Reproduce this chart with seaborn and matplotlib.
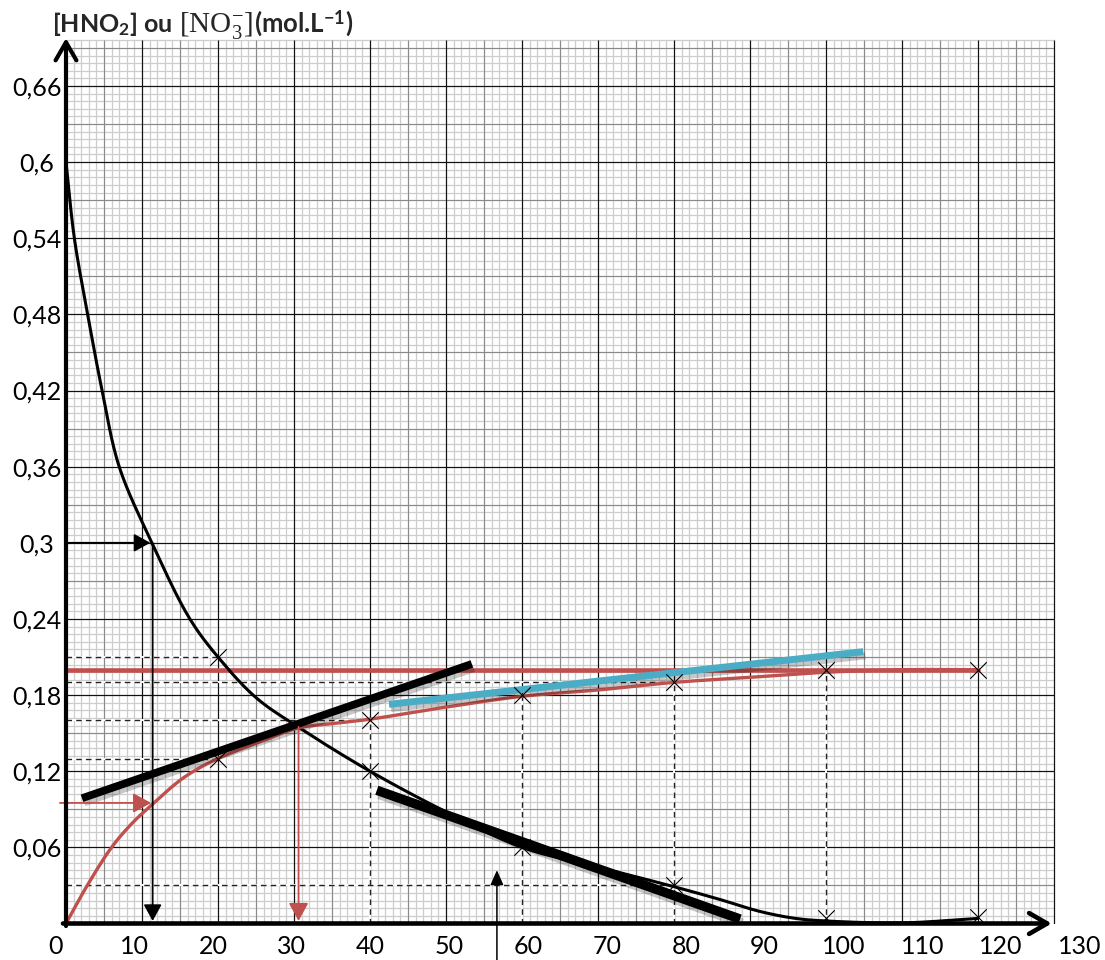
import numpy as np
import pandas as pd
import matplotlib
matplotlib.use("Agg")
import matplotlib.pyplot as plt
import matplotlib.patheffects as pe
import seaborn as sns

# ---------------- data ----------------
# measured points (crosses)
t_hno2_pts = [20, 40, 60, 80, 100, 120]
c_hno2_pts = [0.21, 0.12, 0.06, 0.03, 0.004, 0.005]
t_no3_pts = [20, 40, 60, 80, 100, 120]
c_no3_pts = [0.13, 0.16, 0.18, 0.19, 0.20, 0.20]

# traced curves
t_hno2_curve = [0, 1.1, 2.85, 4.75, 7.0, 11.3, 16.3, 20, 25, 30.5, 40, 50, 60, 70, 80, 86, 91.3, 96, 100, 110, 120]
c_hno2_curve = [0.60, 0.54, 0.48, 0.42, 0.36, 0.30, 0.24, 0.21, 0.178, 0.155, 0.12, 0.088, 0.06, 0.0445, 0.029, 0.019, 0.0095, 0.004, 0.002, 0.0005, 0.004]
t_no3_curve = [0, 2.8, 6.0, 8.7, 11.3, 15.5, 20, 25.5, 30.5, 35, 40, 50, 60, 70, 80, 90, 100, 110, 120]
c_no3_curve = [0, 0.03, 0.06, 0.079, 0.0935, 0.115, 0.13, 0.143, 0.154, 0.1575, 0.161, 0.1705, 0.179, 0.184, 0.190, 0.194, 0.198, 0.200, 0.200]

# tangent segments
tan_no3_t = [2.1, 53.4]
tan_no3_c = [0.0987, 0.2045]
tan_hno2_t = [40.9, 88.7]
tan_hno2_c = [0.105, 0.0035]
tan_cyan_t = [42.5, 104.9]
tan_cyan_c = [0.1727, 0.2142]

# final concentration line
c_final = 0.20
t_final = [0, 120]

# reading guides (dashed)
guide_h_c = [0.21, 0.19, 0.16, 0.13, 0.03]
guide_h_t = [20, 80, 40, 20, 80]
guide_v_t = [40, 60, 80, 100]
guide_v_c = [0.16, 0.18, 0.19, 0.20]

# arrows
half_t, half_c = 11.4, 0.30
inter_t, inter_c = 30.6, 0.155
red_arrow_t, red_arrow_c = 11.2, 0.095
up_arrow_t, up_arrow_c0, up_arrow_c1 = 56.7, -0.03, 0.042

x_tick_values = list(range(0, 131, 10))
y_tick_values = [0.06, 0.12, 0.18, 0.24, 0.30, 0.36, 0.42, 0.48, 0.54, 0.60, 0.66]
y_tick_labels = ["0,06", "0,12", "0,18", "0,24", "0,3", "0,36", "0,42", "0,48", "0,54", "0,6", "0,66"]

RED = "#C0504D"
CYAN = "#4BACC6"

# ---------------- style ----------------
sns.set_theme(style="white")
plt.rcParams["font.family"] = ["Lato", "DejaVu Sans"]
plt.rcParams["mathtext.fontset"] = "custom"
plt.rcParams["mathtext.rm"] = "Liberation Serif"
plt.rcParams["mathtext.it"] = "Liberation Serif:italic"
plt.rcParams["mathtext.bf"] = "Lato:bold"

W, H = 1105, 960
fig = plt.figure(figsize=(W / 100, H / 100), dpi=100)
XMIN, XMAX, YMIN, YMAX = -2, 134, 0, 0.70
PX_X, PX_Y = 7.6, 1269.0
left_px = 66 - (0 - XMIN) * PX_X
bottom_px = 36.5
ax = fig.add_axes([left_px / W, bottom_px / H, (XMAX - XMIN) * PX_X / W, (YMAX - YMIN) * PX_Y / H])
ax.set_xlim(XMIN, XMAX)
ax.set_ylim(YMIN, YMAX)
for s in ax.spines.values():
    s.set_visible(False)

# ---------------- millimetre paper grid ----------------
GX1, GY1 = 130, 0.696
xs_minor = np.arange(0, GX1 + 0.01, 1)
ys_minor = np.arange(0, GY1 + 1e-6, 0.006)
ax.vlines(xs_minor, 0, GY1, colors="#cdcdcd", lw=0.9, zorder=0.3)
ax.hlines(ys_minor, 0, GX1, colors="#cdcdcd", lw=0.9, zorder=0.3)
ax.vlines(np.arange(5, GX1, 10), 0, GY1, colors="#8a8a8a", lw=0.8, zorder=0.4)
ax.hlines(np.arange(0.03, GY1, 0.06), 0, GX1, colors="#8a8a8a", lw=0.8, zorder=0.4)
ax.vlines(np.arange(10, GX1 + 0.01, 10), 0, GY1, colors="#111111", lw=0.85, zorder=0.5)
ax.hlines(np.arange(0.06, GY1, 0.06), 0, GX1, colors="#111111", lw=0.85, zorder=0.5)


# ---------------- smooth rendering of traced curves ----------------
def smooth(xs, ys, n=25):
    P = np.column_stack([np.asarray(xs, float) * PX_X, np.asarray(ys, float) * PX_Y])
    P = np.vstack([2 * P[0] - P[1], P, 2 * P[-1] - P[-2]])
    out = [P[1]]
    for i in range(1, len(P) - 2):
        p0, p1, p2, p3 = P[i - 1], P[i], P[i + 1], P[i + 2]

        def tj(ti, a, b):
            return ti + max(np.linalg.norm(b - a), 1e-6) ** 0.5
        t0 = 0.0
        t1 = tj(t0, p0, p1)
        t2 = tj(t1, p1, p2)
        t3 = tj(t2, p2, p3)
        tt = np.linspace(t1, t2, n)[1:][:, None]
        A1 = (t1 - tt) / (t1 - t0) * p0 + (tt - t0) / (t1 - t0) * p1
        A2 = (t2 - tt) / (t2 - t1) * p1 + (tt - t1) / (t2 - t1) * p2
        A3 = (t3 - tt) / (t3 - t2) * p2 + (tt - t2) / (t3 - t2) * p3
        B1 = (t2 - tt) / (t2 - t0) * A1 + (tt - t0) / (t2 - t0) * A2
        B2 = (t3 - tt) / (t3 - t1) * A2 + (tt - t1) / (t3 - t1) * A3
        C = (t2 - tt) / (t2 - t1) * B1 + (tt - t1) / (t2 - t1) * B2
        out.extend(C)
    out = np.array(out)
    return out[:, 0] / PX_X, out[:, 1] / PX_Y


# dashed reading guides
for c, t in zip(guide_h_c, guide_h_t):
    ax.plot([0, t], [c, c], color="white", lw=1.4, zorder=1.0)
    ax.plot([0, t], [c, c], color="#222222", lw=1.0, ls=(0, (4, 3)), zorder=1.1)
for t, c in zip(guide_v_t, guide_v_c):
    ax.plot([t, t], [0, c], color="white", lw=1.4, zorder=1.0)
    ax.plot([t, t], [0, c], color="#222222", lw=1.0, ls=(0, (4, 3)), zorder=1.1)

# final concentration horizontal line
sns.lineplot(x=t_final, y=[c_final, c_final], color=RED, lw=3.3, ax=ax, zorder=2)

# curves
sx, sy = smooth(t_hno2_curve, c_hno2_curve)
sns.lineplot(x=sx, y=sy, sort=False, estimator=None, color="black", lw=2.2, ax=ax, zorder=2.5)
sx, sy = smooth(t_no3_curve, c_no3_curve)
sns.lineplot(x=sx, y=sy, sort=False, estimator=None, color=RED, lw=2.4, ax=ax, zorder=2.5)

# tangents with shadow
shadow = [pe.SimpleLineShadow(offset=(1.5, -3), shadow_color="black", alpha=0.22), pe.Normal()]
l1 = ax.plot(tan_no3_t, tan_no3_c, color="black", lw=5.6, solid_capstyle="butt", zorder=4)[0]
l2 = ax.plot(tan_hno2_t, tan_hno2_c, color="black", lw=6.8, solid_capstyle="butt", zorder=4)[0]
l3 = ax.plot(tan_cyan_t, tan_cyan_c, color=CYAN, lw=5.0, solid_capstyle="butt", zorder=4)[0]
for l in (l1, l2, l3):
    l.set_path_effects(shadow)

# crosses
pts = pd.DataFrame({"t": t_hno2_pts + t_no3_pts, "c": c_hno2_pts + c_no3_pts})
sns.scatterplot(data=pts, x="t", y="c", marker="x", s=140, color="black", linewidth=0.8, ax=ax, zorder=5)


# arrows
def arrow(p0, p1, color, lw, style, ms=10):
    ax.annotate("", xy=p1, xytext=p0, annotation_clip=False,
                arrowprops=dict(arrowstyle=style, color=color, lw=lw, shrinkA=0, shrinkB=0,
                                mutation_scale=ms), zorder=6)


filled = "-|>,head_length=1.0,head_width=0.55"
arrow((0, half_c), (half_t - 0.3, half_c), "black", 1.3, filled)
arrow((half_t, half_c), (half_t, 0.002), "black", 1.3, filled)
arrow((-0.8, red_arrow_c), (red_arrow_t, red_arrow_c), RED, 1.3, "-|>,head_length=1.1,head_width=0.6")
arrow((inter_t, inter_c), (inter_t, 0.002), RED, 1.3, "-|>,head_length=1.1,head_width=0.6")
arrow((up_arrow_t, up_arrow_c0), (up_arrow_t, up_arrow_c1), "black", 1.1, "-|>,head_length=0.9,head_width=0.4")

# axes with open arrow heads
arrow((0, -0.002), (0, 0.6977), "black", 3.0, "->,head_length=1.3,head_width=0.75", ms=10)
arrow((-0.4, 0), (129.7, 0), "black", 3.3, "->,head_length=1.3,head_width=0.75", ms=10)

# ---------------- ticks / labels ----------------
# tick labels are positioned where the reference prints them (slightly stretched scale)
x_label_pos = [1.037 * v - 1.4 for v in x_tick_values]
ax.set_xticks(x_label_pos, [str(v) for v in x_tick_values])
ax.set_yticks(y_tick_values, y_tick_labels)
ax.tick_params(axis="both", length=0, labelsize=18, colors="black")
ax.tick_params(axis="x", pad=8)
ax.tick_params(axis="y", pad=10)
for lab in ax.get_yticklabels():
    lab.set_horizontalalignment("center")
ax.set_xlabel("")
ax.set_ylabel("")

# title in three pieces (bold sans / serif formula / bold sans)
renderer = fig.canvas.get_renderer()
x_cur = 52 / W
y_base = 1 - 32 / H
title_parts = [
    (r"[HNO$_\mathbf{2}$] ou", dict(fontsize=18, fontweight="bold"), 7),
    (r"[NO$_3^{-}$]", dict(fontsize=21, family="Liberation Serif"), 1),
    (r"(mol.L$^{\mathbf{-1}}$)", dict(fontsize=18.5, fontweight="bold"), 0),
]
for s, kw, gap in title_parts:
    t = fig.text(x_cur, y_base, s, ha="left", va="baseline", **kw)
    bb = t.get_window_extent(renderer=renderer)
    x_cur += (bb.width + gap) / W

fig.savefig("out.png", dpi=100)
